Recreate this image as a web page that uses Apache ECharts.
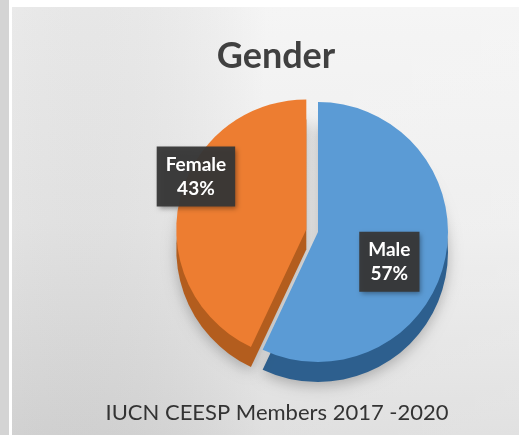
<!DOCTYPE html>
<html>
<head>
<meta charset="utf-8">
<script src="https://cdn.jsdelivr.net/npm/echarts@6/dist/echarts.min.js"></script>
<style>html,body{margin:0;padding:0;background:#fff}#c{width:519px;height:435px}</style>
</head>
<body>
<div id="c"></div>
<script>
const categories = ['Male', 'Female'];
const values = [57, 43];
const topColors = ['#5B9BD5', '#ED7D31'];
const sideColors = ['#2D5F8E', '#B35D1E'];
const titleText = 'Gender';
const footerText = 'IUCN CEESP Members 2017 -2020';

const chart = echarts.init(document.getElementById('c'), null, {renderer: 'canvas'});
const cx = 318, cy = 232, R = 130, depth = 20;
const labelShift = {Male: [5, 15], Female: [-44, -38]};

function buildData(colors) {
  return categories.map((name, i) => ({
    name: name,
    value: values[i],
    selected: name === 'Female',
    itemStyle: {color: colors[i]}
  }));
}

const option = {
  animation: false,
  backgroundColor: '#ffffff',
  graphic: [
    {type: 'rect', z: -10, shape: {x: 0, y: 0, width: 9, height: 435}, style: {fill: '#d4d4d4'}},
    {type: 'rect', z: -10, shape: {x: 12, y: 7, width: 507, height: 428},
     style: {fill: new echarts.graphic.LinearGradient(0, 0, 0, 1, [
       {offset: 0, color: '#f3f3f3'}, {offset: 0.5, color: '#ececec'}, {offset: 1, color: '#dadada'}])}},
    {type: 'rect', z: -9, shape: {x: 12, y: 7, width: 507, height: 428},
     style: {fill: new echarts.graphic.LinearGradient(0, 0, 1, 0, [
       {offset: 0, color: 'rgba(0,0,0,0.04)'}, {offset: 0.5, color: 'rgba(255,255,255,0.15)'}, {offset: 1, color: 'rgba(255,255,255,0.2)'}])}}
  ],
  title: [
    {text: titleText, left: 271, top: 33, textAlign: 'center',
     textStyle: {fontFamily: 'Lato', fontWeight: 'bold', fontSize: 36, color: '#404040'}},
    {text: footerText, left: 272, top: 397, textAlign: 'center',
     textStyle: {fontFamily: 'Lato', fontWeight: 'normal', fontSize: 22, color: '#333333'}}
  ],
  series: [
    {
      type: 'pie', silent: true, z: 1,
      center: [cx, cy + depth], radius: R, startAngle: 90, clockwise: true,
      selectedMode: 'single', selectedOffset: 12,
      label: {show: false}, labelLine: {show: false},
      itemStyle: {shadowBlur: 14, shadowColor: 'rgba(0,0,0,0.25)', shadowOffsetY: 4},
      data: buildData(sideColors)
    },
    {
      type: 'pie', silent: true, z: 2,
      center: [cx, cy], radius: R, startAngle: 90, clockwise: true,
      selectedMode: 'single', selectedOffset: 12,
      labelLine: {show: false},
      label: {
        show: true, position: 'inside',
        formatter: p => p.name + '\n' + p.value + '%',
        color: '#ffffff', fontFamily: 'Lato', fontWeight: 'bold', fontSize: 19, lineHeight: 24,
        backgroundColor: 'rgba(55,55,55,0.95)', padding: [7, 9, 5, 9],
        shadowBlur: 5, shadowColor: 'rgba(0,0,0,0.4)', shadowOffsetX: 2, shadowOffsetY: 2
      },
      labelLayout: p => {
        const s = labelShift[categories[p.dataIndex]];
        return {dx: s[0], dy: s[1]};
      },
      data: buildData(topColors)
    }
  ]
};
chart.setOption(option);
</script>
</body>
</html>
